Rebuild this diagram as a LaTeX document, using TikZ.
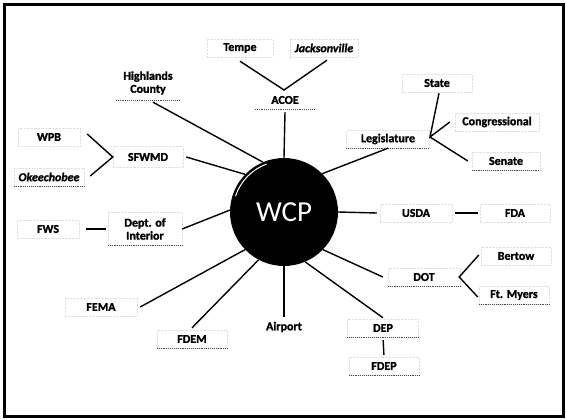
\documentclass[tikz,border=0pt]{standalone}
\usepackage{fontspec}
\setmainfont{Carlito}
\newfontfamily\heavyfont[FakeBold=1.5]{Carlito Bold}
\newfontfamily\heavyitfont[FakeBold=1.5]{Carlito Bold Italic}
\begin{document}
\begin{tikzpicture}[x=1pt,y=-1pt]
\tikzset{
  lbl/.style={draw=black!12, densely dotted, font=\fontsize{12}{13}\heavyfont,
              minimum height=18pt, inner sep=2pt, align=center},
  nobox/.style={font=\fontsize{12}{13}\heavyfont, minimum height=18pt, inner sep=2pt, align=center},
  con/.style={line width=1.4pt, black},
  ul/.style={line width=0.9pt, black!70, densely dotted}
}
\useasboundingbox (0,0) rectangle (566,420);
\draw[line width=3pt] (4,5) rectangle (563,416);

\node[circle, fill=black, minimum size=108pt, inner sep=0pt,
      font=\fontsize{29}{30}\selectfont, text=white] (wcp) at (284,212) {WCP};
\draw[white, line width=1pt] (wcp.center) ++(198:51) arc[start angle=198, end angle=250, radius=51];

% labels
\node[lbl, minimum width=66pt] (tempe) at (240,48) {Tempe};
\node[lbl, minimum width=68pt] (jack) at (324,48) {\heavyitfont Jacksonville};
\node[nobox, minimum width=60pt] (acoe) at (285,100) {ACOE};
\node[nobox, minimum width=64pt, minimum height=34pt, inner sep=1pt] (hc) at (148,83) {Highlands\\County};
\node[lbl, minimum width=62pt] (wpb) at (49,137) {WPB};
\node[lbl, minimum width=70pt] (okee) at (49,177) {\heavyitfont Okeechobee};
\node[lbl, minimum width=70pt, minimum height=21pt] (sfwmd) at (148,157) {SFWMD};
\node[lbl, minimum width=62pt] (fws) at (48,229) {FWS};
\node[lbl, minimum width=74pt, minimum height=33pt, inner sep=1pt] (dept) at (145,229) {Dept. of\\Interior};
\node[lbl, minimum width=83pt] (legis) at (388,139) {Legislature};
\node[lbl, minimum width=70pt] (state) at (437,83) {State};
\node[lbl, minimum width=84pt] (cong) at (497,122) {Congressional};
\node[lbl, minimum width=68pt] (senate) at (506,161) {Senate};
\node[lbl, minimum width=72pt] (usda) at (416,213) {USDA};
\node[lbl, minimum width=70pt] (fda) at (515,213) {FDA};
\node[lbl, minimum width=72pt] (dot) at (424,277) {DOT};
\node[lbl, minimum width=70pt] (bertow) at (516,256) {Bertow};
\node[lbl, minimum width=70pt] (ftm) at (514,295) {Ft. Myers};
\node[lbl, minimum width=72pt] (fema) at (101,307) {FEMA};
\node[lbl, minimum width=70pt] (fdem) at (192,339) {FDEM};
\node[nobox] (airport) at (284,327) {Airport};
\node[lbl, minimum width=71pt] (dep) at (383,328) {DEP};
\node[lbl, minimum width=70pt] (fdep) at (384,366) {FDEP};

% darker bottom edges
\foreach \n in {acoe,hc,okee,dept,legis,senate,dot,ftm,dep,fdep,fdem}
  \draw[ul] (\n.south west) -- (\n.south east);

% connectors
\coordinate (aj) at (284,90);
\draw[con] ([yshift=-4pt]tempe.south) -- (aj) -- ([xshift=3pt,yshift=-3pt]jack.south);
\draw[con] ([yshift=-3pt]acoe.south) -- (wcp.90);
\draw[con] ([xshift=5pt,yshift=-2pt]hc.south) -- (wcp.113);
\draw[con] ([xshift=7pt,yshift=3pt]wpb.east) -- (sfwmd.west) -- ([xshift=6pt,yshift=1pt]okee.east);
\draw[con] ([xshift=3pt]sfwmd.east) -- (wcp.136);
\draw[con, shorten <=7pt, shorten >=2pt] (fws.east) -- (dept.west);
\draw[con] (dept.east) -- (wcp.178);
\draw[con] ([xshift=3pt]fema.east) -- (wcp.224);
\draw[con] ([yshift=2pt]fdem.north) -- (wcp.242);
\draw[con] (wcp.270) -- ([yshift=1pt]airport.north);
\draw[con] (wcp.293) -- ([yshift=1pt]dep.north);
\draw[con, shorten <=3pt, shorten >=2pt] (dep.south) -- (fdep.north);
\draw[con] (wcp.316) -- ([xshift=-5pt]dot.west);
\draw[con] ([xshift=-2pt,yshift=1pt]bertow.west) -- ([xshift=-1pt]dot.east) -- ([xshift=-1pt,yshift=-2pt]ftm.west);
\draw[con] (wcp.0) -- ([xshift=-3pt]usda.west);
\draw[con, shorten <=3pt, shorten >=2pt] (usda.east) -- (fda.west);
\draw[con] (legis.south) -- (wcp.45);
\coordinate (lj) at (430,137);
\draw[con] ([xshift=2pt,yshift=-1pt]state.south) -- (lj) -- ([xshift=-5pt]cong.west);
\draw[con] (lj) -- ([xshift=-4pt]senate.west);
\end{tikzpicture}
\end{document}
